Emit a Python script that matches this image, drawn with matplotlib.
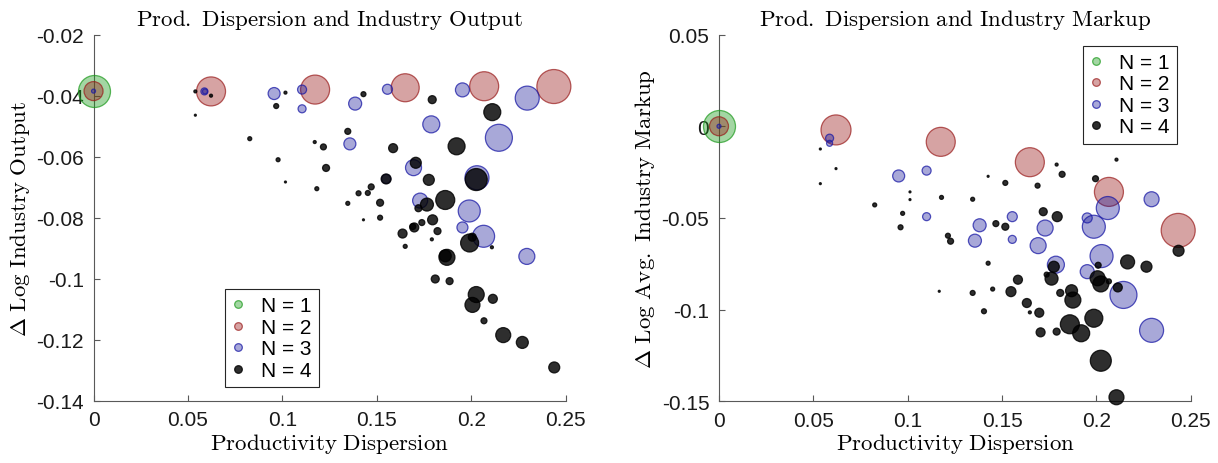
import numpy as np
import matplotlib
matplotlib.use("Agg")
import matplotlib.pyplot as plt
from matplotlib.lines import Line2D
from matplotlib.ticker import FixedLocator, FixedFormatter

plt.rcParams["mathtext.fontset"] = "cm"
plt.rcParams["axes.unicode_minus"] = False

# ---- left panel: productivity dispersion vs. change in log industry output ----
out_x1 = [0.0]
out_y1 = [-0.0385]
out_w1 = [32]

out_x2 = [0.0, 0.0622, 0.1173, 0.1650, 0.2068, 0.2437]
out_y2 = [-0.0385, -0.0386, -0.0380, -0.0374, -0.0369, -0.0370]
out_w2 = [19, 29, 29, 28, 29, 34]

out_x3 = [0.0, 0.0587, 0.0590, 0.0956, 0.1104, 0.1104, 0.1385, 0.1357, 0.1556, 0.1549,
          0.1953, 0.2296, 0.1788, 0.2146, 0.1694, 0.2030, 0.1729, 0.1989, 0.1953, 0.2065,
          0.2294]
out_y3 = [-0.0385, -0.0386, -0.0386, -0.0393, -0.0443, -0.0380, -0.0426, -0.0558, -0.0379, -0.0673,
          -0.0381, -0.0408, -0.0494, -0.0538, -0.0636, -0.0669, -0.0744, -0.0778, -0.0832, -0.0861,
          -0.0927]
out_w3 = [4, 7, 5, 12, 8, 9, 13, 12, 10, 9,
          14, 24, 17, 27, 16, 24, 15, 22, 11, 22,
          16]

out_x4 = [0.0539, 0.0622, 0.0539, 0.1016, 0.0967, 0.0827, 0.0977, 0.1016, 0.1171, 0.1217,
          0.1231, 0.1182, 0.1346, 0.1346, 0.1403, 0.1429, 0.1793, 0.2111, 0.1586, 0.1922,
          0.1706, 0.1549, 0.1775, 0.2026, 0.1470, 0.1452, 0.1517, 0.1429, 0.1517, 0.1765,
          0.1862, 0.1720, 0.1795, 0.1738, 0.1698, 0.1690, 0.1636, 0.1821, 0.1991, 0.2005,
          0.2109, 0.1791, 0.1650, 0.1871, 0.1862, 0.1809, 0.1885, 0.2026, 0.2006, 0.2114,
          0.2067, 0.2169, 0.2270, 0.2439]
out_y4 = [-0.0386, -0.0400, -0.0464, -0.0390, -0.0434, -0.0541, -0.0610, -0.0683, -0.0552, -0.0568,
          -0.0637, -0.0705, -0.0517, -0.0753, -0.0720, -0.0395, -0.0413, -0.0454, -0.0572, -0.0566,
          -0.0620, -0.0673, -0.0676, -0.0675, -0.0699, -0.0719, -0.0751, -0.0807, -0.0800, -0.0757,
          -0.0742, -0.0769, -0.0807, -0.0816, -0.0832, -0.0829, -0.0852, -0.0844, -0.0883, -0.0864,
          -0.0897, -0.0871, -0.0894, -0.0930, -0.0925, -0.1001, -0.1008, -0.1052, -0.1086, -0.1066,
          -0.1138, -0.1185, -0.1209, -0.1291]
out_w4 = [3, 3, 2, 3, 5, 4, 4, 2, 3, 6,
          7, 4, 6, 4, 5, 5, 8, 17, 9, 17,
          11, 10, 11, 22, 6, 5, 7, 2, 5, 13,
          19, 7, 10, 6, 9, 6, 9, 7, 18, 8,
          3, 3, 4, 16, 12, 8, 7, 16, 15, 9,
          6, 15, 12, 11]

# ---- right panel: productivity dispersion vs. change in log avg. markup ----
mk_x1 = [0.0]
mk_y1 = [0.0]
mk_w1 = [32]

mk_x2 = [0.0, 0.0620, 0.1175, 0.1647, 0.2066, 0.2433]
mk_y2 = [0.0, -0.0020, -0.0085, -0.0196, -0.0358, -0.0568]
mk_w2 = [19, 30, 29, 29, 29, 34]

mk_x3 = [0.0, 0.0586, 0.0586, 0.0952, 0.1100, 0.1100, 0.2292, 0.2060, 0.1986, 0.1951,
         0.1554, 0.1728, 0.1381, 0.1356, 0.1554, 0.1691, 0.2027, 0.1785, 0.1951, 0.2143,
         0.2292]
mk_y3 = [0.0, -0.0065, -0.0093, -0.0271, -0.0242, -0.0493, -0.0398, -0.0446, -0.0548, -0.0500,
         -0.0493, -0.0555, -0.0540, -0.0624, -0.0617, -0.0651, -0.0708, -0.0755, -0.0793, -0.0920,
         -0.1113]
mk_w3 = [4, 8, 6, 12, 9, 8, 15, 23, 23, 10,
         10, 16, 13, 13, 8, 16, 23, 17, 14, 27,
         24]

mk_x4 = [0.0537, 0.0620, 0.0537, 0.1012, 0.1012, 0.0825, 0.0973, 0.0962, 0.1167, 0.1789,
         0.2106, 0.1818, 0.1995, 0.1426, 0.1517, 0.1688, 0.2435, 0.1179, 0.1344, 0.1718,
         0.1792, 0.1467, 0.1517, 0.1213, 0.1227, 0.2165, 0.2265, 0.1774, 0.1426, 0.2009,
         0.1736, 0.1762, 0.1584, 0.2006, 0.2023, 0.2066, 0.2113, 0.1344, 0.1450, 0.1547,
         0.1868, 0.1875, 0.1808, 0.1631, 0.1647, 0.1697, 0.1404, 0.1859, 0.1986, 0.1919,
         0.1704, 0.1789, 0.2023, 0.2106]
mk_y4 = [-0.0124, -0.0231, -0.0313, -0.0358, -0.0400, -0.0429, -0.0475, -0.0551, -0.0900, -0.0209,
         -0.0182, -0.0262, -0.0286, -0.0273, -0.0309, -0.0324, -0.0679, -0.0388, -0.0398, -0.0466,
         -0.0493, -0.0531, -0.0548, -0.0597, -0.0627, -0.0740, -0.0766, -0.0766, -0.0747, -0.0758,
         -0.0809, -0.0831, -0.0837, -0.0829, -0.0860, -0.0846, -0.0879, -0.0909, -0.0888, -0.0902,
         -0.0897, -0.0948, -0.0909, -0.0964, -0.1015, -0.1017, -0.1009, -0.1080, -0.1047, -0.1129,
         -0.1124, -0.1120, -0.1279, -0.1478]
mk_w4 = [2, 2, 2, 2, 2, 4, 4, 5, 2, 3,
         3, 6, 6, 2, 5, 5, 11, 4, 4, 8,
         10, 6, 7, 5, 6, 14, 11, 11, 4, 6,
         5, 13, 9, 15, 16, 5, 9, 5, 4, 10,
         12, 16, 7, 9, 3, 9, 5, 19, 18, 17,
         9, 7, 21, 15]

LABELS = ["N = 1", "N = 2", "N = 3", "N = 4"]
FACE = [(0.1, 0.6, 0.1, 0.4), (0.6, 0.1, 0.1, 0.4), (0.1, 0.1, 0.6, 0.38), (0.0, 0.0, 0.0, 0.82)]
EDGE = [(0.1, 0.6, 0.1, 0.7), (0.6, 0.1, 0.1, 0.7), (0.1, 0.1, 0.65, 0.75), (0.0, 0.0, 0.0, 0.82)]

DPI = 100
SANS = "Liberation Sans"


def area(w):
    # bubble weight -> scatter area in pt^2 (weight ~ diameter in pixels)
    return (np.asarray(w) * 72.0 / DPI) ** 2


def panel(ax, groups, ylim, yticks, ylabels, title, ylabel, legend_loc, legend_anchor):
    for (x, y, w), fc, ec in zip(groups, FACE, EDGE):
        ax.scatter(x, y, s=area(w), facecolors=[fc], edgecolors=[ec],
                   linewidths=0.9, clip_on=False, zorder=3)
    ax.set_xlim(0, 0.25)
    ax.set_ylim(*ylim)
    ax.xaxis.set_major_locator(FixedLocator([0, 0.05, 0.1, 0.15, 0.2, 0.25]))
    ax.xaxis.set_major_formatter(FixedFormatter(["0", "0.05", "0.1", "0.15", "0.2", "0.25"]))
    ax.yaxis.set_major_locator(FixedLocator(yticks))
    ax.yaxis.set_major_formatter(FixedFormatter(ylabels))
    for side in ["top", "right"]:
        ax.spines[side].set_visible(False)
    for side in ["left", "bottom"]:
        ax.spines[side].set_color("0.35")
        ax.spines[side].set_linewidth(0.8)
    ax.tick_params(direction="in", length=4, width=0.8, color="0.35",
                   labelsize=15, labelcolor="0.1", pad=7)
    for lab in ax.get_xticklabels() + ax.get_yticklabels():
        lab.set_fontfamily(SANS)
    ax.set_title(title, fontsize=16.5, pad=7)
    ax.set_xlabel(r"$\mathrm{Productivity\ Dispersion}$", fontsize=16.5, labelpad=1)
    ax.set_ylabel(ylabel, fontsize=16.5, labelpad=3)

    handles = [Line2D([], [], linestyle="", marker="o", markersize=5.5,
                      markerfacecolor=fc, markeredgecolor=ec, markeredgewidth=0.9)
               for fc, ec in zip(FACE, EDGE)]
    leg = ax.legend(handles, LABELS, loc=legend_loc, bbox_to_anchor=legend_anchor,
                    borderaxespad=0, frameon=True, fancybox=False, framealpha=1,
                    edgecolor="0.15", handlelength=0.6, handletextpad=0.8,
                    labelspacing=0.12, borderpad=0.35,
                    prop={"family": SANS, "size": 15})
    leg.get_frame().set_linewidth(0.8)
    leg.set_zorder(5)


def main():
    fig = plt.figure(figsize=(12.18, 4.64), dpi=DPI)
    ax1 = fig.add_axes([0.0768, 0.1343, 0.3877, 0.7888])
    ax2 = fig.add_axes([0.5903, 0.1330, 0.3874, 0.7903])

    panel(ax1,
          [(out_x1, out_y1, out_w1), (out_x2, out_y2, out_w2),
           (out_x3, out_y3, out_w3), (out_x4, out_y4, out_w4)],
          (-0.14, -0.02),
          [-0.14, -0.12, -0.1, -0.08, -0.06, -0.04, -0.02],
          ["-0.14", "-0.12", "-0.1", "-0.08", "-0.06", "-0.04", "-0.02"],
          r"$\mathrm{Prod.\ Dispersion\ and\ Industry\ Output}$",
          r"$\Delta\ \mathrm{Log\ Industry\ Output}$",
          "lower left", (0.278, 0.037))

    panel(ax2,
          [(mk_x1, mk_y1, mk_w1), (mk_x2, mk_y2, mk_w2),
           (mk_x3, mk_y3, mk_w3), (mk_x4, mk_y4, mk_w4)],
          (-0.15, 0.05),
          [-0.15, -0.1, -0.05, 0, 0.05],
          ["-0.15", "-0.1", "-0.05", "0", "0.05"],
          r"$\mathrm{Prod.\ Dispersion\ and\ Industry\ Markup}$",
          r"$\Delta\ \mathrm{Log\ Avg.\ Industry\ Markup}$",
          "upper right", (0.9705, 0.9697))

    fig.savefig("out.png", dpi=DPI)
    plt.close(fig)


if __name__ == "__main__":
    main()
